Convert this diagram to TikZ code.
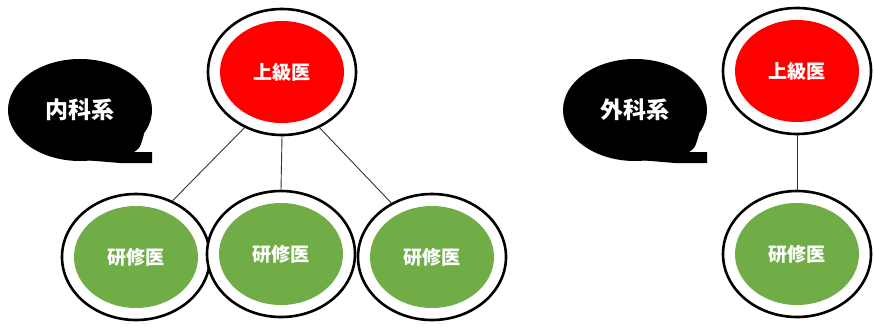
\documentclass[tikz,border=0pt]{standalone}
\usepackage{fontspec}
\newfontfamily\jp{Noto Sans CJK JP}
\usetikzlibrary{shapes.geometric}
\definecolor{srred}{RGB}{255,0,0}
\definecolor{jrgreen}{RGB}{112,173,71}
\tikzset{
  ringnode/.style={ellipse, draw=black, line width=2.6pt, fill=white,
    minimum width=148pt, minimum height=126pt, inner sep=0pt,
    text=white, font=\jp\bfseries\fontsize{19}{19}\selectfont,
    path picture={\fill[#1] (path picture bounding box.center) ellipse [x radius=62pt, y radius=51pt];}},
  bubble/.style={ellipse, fill=black, minimum width=144pt, minimum height=102pt,
    inner sep=0pt, text=white, font=\jp\bfseries\fontsize{23}{23}\selectfont},
  link/.style={draw=black!80, line width=0.9pt}
}
\begin{document}
\begin{tikzpicture}[x=1pt,y=-1pt]
\useasboundingbox (0,0) rectangle (874,327);
% speech bubble tails
\foreach \cx/\cy in {80/110, 635/110}{
  \begin{scope}[shift={(\cx,\cy)}]
    \fill[black] (0,30) -- (10,50.5) -- (40,53) -- (72,53) -- (72,42) -- (54,42)
      .. controls (60,38) .. (64,24) -- cycle;
  \end{scope}
}
\node[bubble] (b1) at (80,110) {内科系};
\node[bubble] (b2) at (635,110) {外科系};
% left group
\node[ringnode=srred] (s1) at (282,72) {上級医};
\node[ringnode=jrgreen] (j1) at (136,257) {研修医};
\node[ringnode=jrgreen] (j2) at (281,254) {研修医};
\node[ringnode=jrgreen] (j3) at (432,257) {研修医};
\draw[link] (s1.236) -- (j1.57);
\draw[link] (s1.south) -- (j2.north);
\draw[link] (s1.304) -- (j3.127);
% right group
\node[ringnode=srred] (s2) at (797,71) {上級医};
\node[ringnode=jrgreen] (j4) at (797,254) {研修医};
\draw[link] (s2.south) -- (j4.north);
\end{tikzpicture}
\end{document}
